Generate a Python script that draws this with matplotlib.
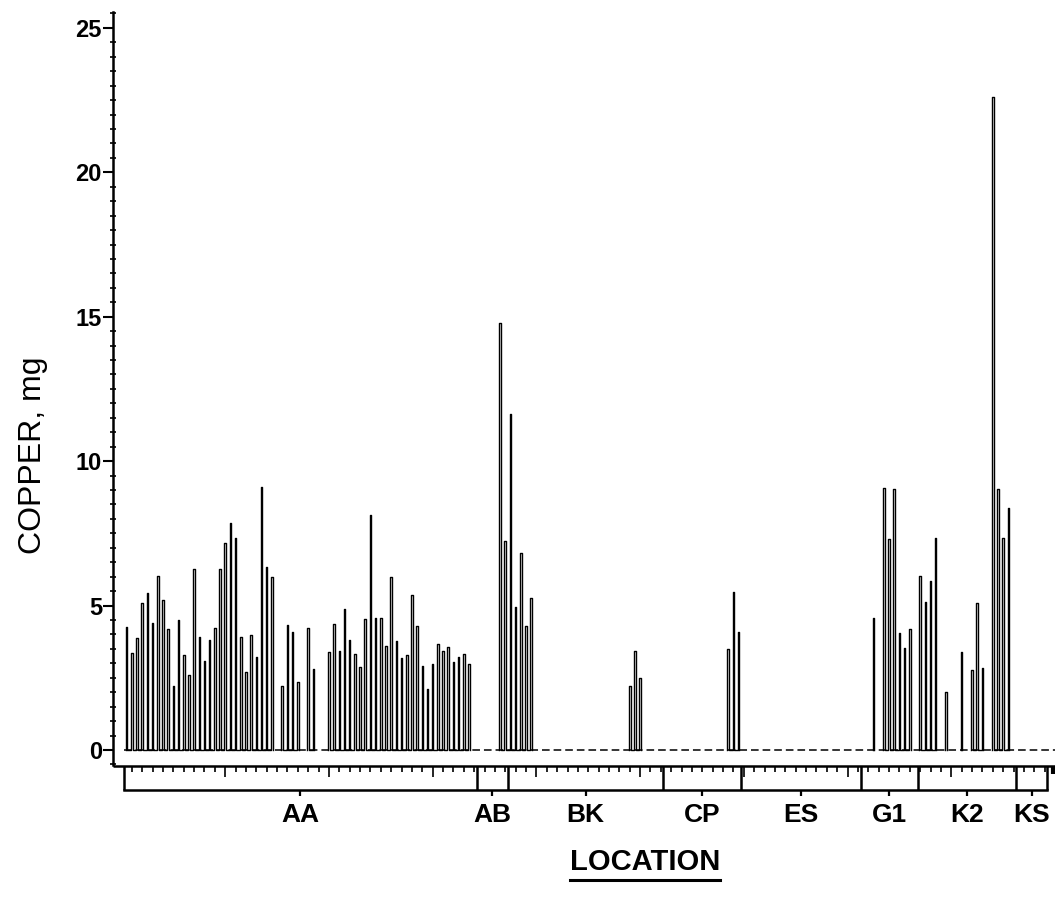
import numpy as np
import matplotlib
matplotlib.use("Agg")
import matplotlib.pyplot as plt
from matplotlib import font_manager
from matplotlib.lines import Line2D
from matplotlib.ticker import MultipleLocator

# copper (mg) for each sample, in plot order, grouped by location
# 0 = nothing detected (drawn on the dashed zero line)
locations = ['AA', 'AB', 'BK', 'CP', 'ES', 'G1', 'K2', 'KS']

aa = [4.27, 3.37, 3.89, 5.08, 5.42, 4.39, 6.02, 5.19, 4.19, 2.22,
      4.50, 3.28, 2.60, 6.28, 3.92, 3.08, 3.81, 4.21, 6.28, 7.16,
      7.85, 7.33, 3.92, 2.71, 3.98, 3.23, 9.10, 6.35, 5.98, 0,
      2.22, 4.33, 4.07, 2.37, 0, 4.21, 2.79, 0, 0, 3.40,
      4.35, 3.44, 4.89, 3.80, 3.32, 2.89, 4.52, 8.14, 4.56, 4.58,
      3.61, 5.98, 3.77, 3.20, 3.29, 5.37, 4.30, 2.91, 2.10, 2.97,
      3.67, 3.44, 3.58, 3.06, 3.23, 3.32, 2.98, 0]
ab = [0, 0, 0, 0, 14.80, 7.25]
bk = [11.62, 4.94, 6.83, 4.30, 5.25] + [0] * 18 + [2.22, 3.44, 2.48] + [0] * 4
cp = [0] * 12 + [3.49, 5.48, 4.10]
es = [0] * 23
g1 = [0, 0, 4.56, 0, 9.06, 7.31, 9.03, 4.06, 3.52, 4.19, 0]
k2 = [6.02, 5.14, 5.86, 7.33, 0, 2.02, 0, 0, 3.38, 0,
      2.77, 5.08, 2.85, 0, 22.60, 9.03, 7.33, 8.37, 0]
ks = [0] * 6

copper = [aa, ab, bk, cp, es, g1, k2, ks]

# narrow bold face like the old plotter lettering, if we have one
names = {f.name for f in font_manager.fontManager.ttflist}
narrow = 'Liberation Sans Narrow' if 'Liberation Sans Narrow' in names else 'Liberation Sans'
plt.rcParams['font.family'] = [narrow, 'DejaVu Sans']

vals = np.concatenate([np.array(g, dtype=float) for g in copper])
idx = np.arange(len(vals))
sizes = [len(g) for g in copper]
edges = np.concatenate([[0], np.cumsum(sizes)]) - 0.5
centers = (edges[:-1] + edges[1:]) / 2

W, H = 1059, 906
fig = plt.figure(figsize=(W / 100, H / 100), dpi=100)
px0, px1 = 113, 1055
ax = fig.add_axes([px0 / W, 1 - 765 / H, (px1 - px0) / W, (765 - 12) / H])
xlim = (-2.64, 179.0)
ax.set_xlim(*xlim)
ax.set_ylim(-0.52, 25.55)

# dashed zero line
ax.plot([-0.5, xlim[1]], [0, 0], color='black', lw=1.1, ls=(0, (5, 2.6)), zorder=1)

# spikes: up and down again, runs joined along zero
w = 0.15
sx, sy = [], []
inrun = False
for k, v in zip(idx, vals):
    if v > 0:
        sx += [k - w, k - w, k + w, k + w]
        sy += [0, v, v, 0]
        inrun = True
    elif inrun:
        sx.append(np.nan)
        sy.append(np.nan)
        inrun = False
ax.plot(sx, sy, color='black', lw=1.0, zorder=2)

for s in ['top', 'right', 'bottom']:
    ax.spines[s].set_visible(False)
ax.spines['left'].set_linewidth(1.8)
ax.set_xticks([])
ax.set_yticks(range(0, 26, 5))
ax.yaxis.set_minor_locator(MultipleLocator(0.5))
ax.tick_params(axis='y', which='major', direction='out', length=7, width=1.5,
               labelsize=17, pad=1)
ax.tick_params(axis='y', which='minor', direction='inout', length=5, width=1.2)
for t in ax.get_yticklabels():
    t.set_fontweight('bold')

# location band under the plot
bx = fig.add_axes([px0 / W, 1 - 803 / H, (px1 - px0) / W, 40 / H])
bx.set_xlim(*xlim)
bx.set_ylim(40, 0)
bx.axis('off')
top, short, longt, depth, lab = 3, 8.5, 14, 27, 33
bx.plot(xlim, [top, top], color='black', lw=1.8, solid_capstyle='butt')
ticks = np.arange(1, len(vals), 2)
bx.vlines(ticks, top, np.where((ticks + 1) % 20 == 0, longt, short), color='black', lw=1.2)
bx.vlines([xlim[1] - 0.4], top, short + 2, color='black', lw=3)
bx.vlines(edges, top, depth, color='black', lw=1.8)
bx.plot([edges[0], edges[-1]], [depth, depth], color='black', lw=1.8, solid_capstyle='projecting')
bx.vlines(centers, depth, lab, color='black', lw=1.6)
for c, name in zip(centers, locations):
    bx.text(c, 52, name, ha='center', va='center', fontsize=19, fontweight='bold',
            clip_on=False)

fig.text(33 / W, 1 - 455 / H, 'COPPER, mg', rotation=90, ha='center', va='center',
         fontsize=23, family=['Liberation Sans', 'DejaVu Sans'])

title = fig.text(645 / W, 1 - 862 / H, 'LOCATION', ha='center', va='center',
                 fontsize=21, fontweight='bold')
fig.canvas.draw()
bb = title.get_window_extent().transformed(fig.transFigure.inverted())
fig.add_artist(Line2D([bb.x0, bb.x1], [bb.y0 - 4 / H, bb.y0 - 4 / H],
                      transform=fig.transFigure, color='black', lw=2.2))

fig.savefig('out.png', dpi=100)
